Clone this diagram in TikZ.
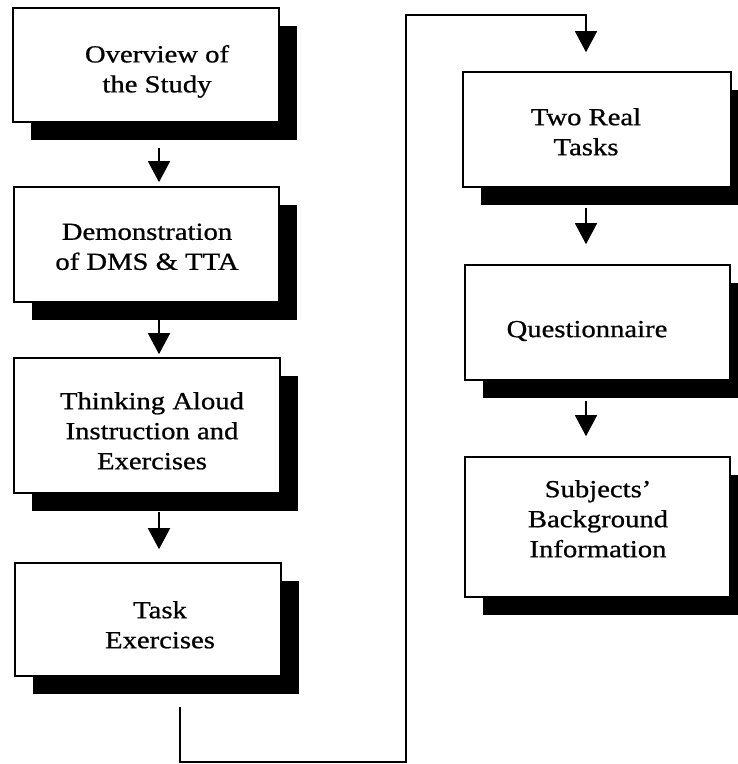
\documentclass[tikz,border=0pt]{standalone}
\usepackage{fontspec}
\setmainfont[FakeStretch=1.17, FakeBold=0.8]{Liberation Serif}
\usetikzlibrary{arrows.meta}

\tikzset{
  stepbox/.style={draw=black, fill=white, line width=1.6pt, rectangle,
    inner sep=0pt, minimum width=#1},
  stepbox/.default=266pt,
  shadowbox/.style={fill=black, rectangle, inner sep=0pt},
  steptext/.style={align=center, inner sep=0pt,
    font=\fontsize{24.5}{30}\selectfont},
  flow/.style={line width=1.5pt, -{Triangle[width=22pt,length=21pt]}},
  link/.style={line width=1.5pt}
}

\begin{document}
\begin{tikzpicture}[x=1pt, y=-1pt]
\useasboundingbox (0,0) rectangle (738,764);

% column positions of the vertical arrows
\coordinate (colL) at (159,0);
\coordinate (colR) at (586,0);
% corners of the connector between the two columns
\coordinate (k1) at (180,762);
\coordinate (k2) at (406,15);

% drop shadows
\node[shadowbox, minimum width=266pt, minimum height=114pt] (s1) at (164,83) {};
\node[shadowbox, minimum width=265pt, minimum height=115pt] (s2) at (164.5,262.5) {};
\node[shadowbox, minimum width=266pt, minimum height=135pt] (s3) at (165,443.5) {};
\node[shadowbox, minimum width=266pt, minimum height=113pt] (s4) at (166,637.5) {};
\node[shadowbox, minimum width=268pt, minimum height=115pt] (s5) at (615,147.5) {};
\node[shadowbox, minimum width=265pt, minimum height=115pt] (s6) at (615.5,340.5) {};
\node[shadowbox, minimum width=265pt, minimum height=140pt] (s7) at (615.5,545) {};

% boxes
\node[stepbox=266pt, minimum height=114pt] (b1) at (146,65) {};
\node[stepbox=265pt, minimum height=115pt] (b2) at (146.5,244.5) {};
\node[stepbox=266pt, minimum height=135pt] (b3) at (147,425.5) {};
\node[stepbox=266pt, minimum height=113pt] (b4) at (148,619.5) {};
\node[stepbox=268pt, minimum height=115pt] (b5) at (597,129.5) {};
\node[stepbox=265pt, minimum height=115pt] (b6) at (597.5,322.5) {};
\node[stepbox=265pt, minimum height=140pt] (b7) at (597.5,527) {};

% box texts
\node[steptext] (t1) at (157,71.4) {Overview of\\the Study};
\node[steptext] (t2) at (147,246.8) {Demonstration\\of DMS \& TTA};
\node[steptext] (t3) at (152,430.8) {Thinking Aloud\\Instruction and\\Exercises};
\node[steptext] (t4) at (160,624.8) {Task\\Exercises};
\node[steptext] (t5) at (586,131.8) {Two Real\\Tasks};
\node[steptext] (t6) at (587,331) {Questionnaire};
\node[steptext] (t7) at (598,518.8) {Subjects’\\Background\\Information};

% arrows down the left column
\draw[flow, shorten <=8pt, shorten >=4pt] (s1.south -| colL) -- (b2.north -| colL);
\draw[flow, shorten >=3pt] (s2.south -| colL) -- (b3.north -| colL);
\draw[flow, shorten <=1pt, shorten >=13pt] (s3.south -| colL) -- (b4.north -| colL);

% connector from the left column over to the right column
\draw[flow, shorten <=13pt, shorten >=19pt]
  (s4.south -| k1) -- (k1) -- (k1 -| k2) -- (k2) -- (k2 -| colR) -- (b5.north -| colR);

% arrows down the right column
\draw[flow, shorten <=3pt, shorten >=20pt] (s5.south -| colR) -- (b6.north -| colR);
\draw[flow, shorten <=3pt, shorten >=20pt] (s6.south -| colR) -- (b7.north -| colR);
\end{tikzpicture}
\end{document}
